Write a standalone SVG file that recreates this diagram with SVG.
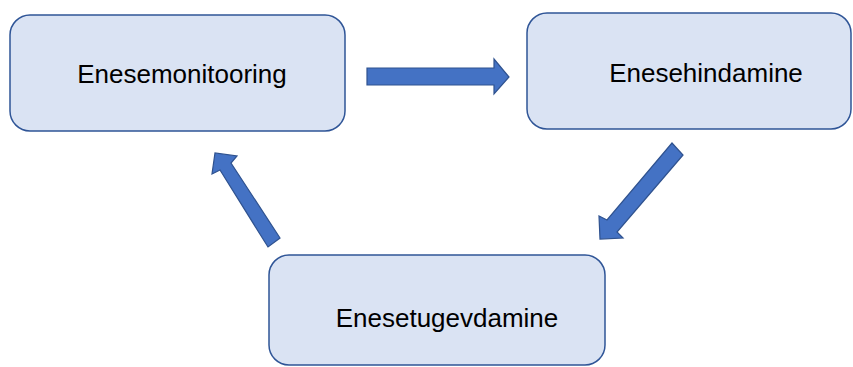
<svg xmlns="http://www.w3.org/2000/svg" width="853" height="367" viewBox="0 0 853 367">
<style>
.box{fill:#DAE3F3;stroke:#2F5597;stroke-width:1.5}
.lbl{font-family:"Liberation Sans",Arial,sans-serif;font-size:26px;fill:#000;text-anchor:middle}
.arr{fill:#4472C4;stroke:#2F528F;stroke-width:1.2;stroke-linejoin:miter}
</style>
<rect width="853" height="367" fill="#fff"/>
<g id="connectors">
<polygon class="arr" points="367,68 494,68 494,59 509,77 494,94 494,85 367,85"/>
<polygon class="arr" points="683,155 617,232 623,238 600,239 599,216 607,220 672,143"/>
<polygon class="arr" points="280,238 231,163 237,156 215,153 212,174 220,170 268,247"/>
</g>
<g id="node-monitooring">
<rect class="box" x="10" y="15" width="335" height="116" rx="20"/>
<text class="lbl" x="182" y="83">Enesemonitooring</text>
</g>
<g id="node-hindamine">
<rect class="box" x="527" y="13" width="324" height="116" rx="20"/>
<text class="lbl" x="706" y="82">Enesehindamine</text>
</g>
<g id="node-tugevdamine">
<rect class="box" x="269" y="255" width="336" height="110" rx="20"/>
<text class="lbl" x="447" y="327">Enesetugevdamine</text>
</g>
</svg>
